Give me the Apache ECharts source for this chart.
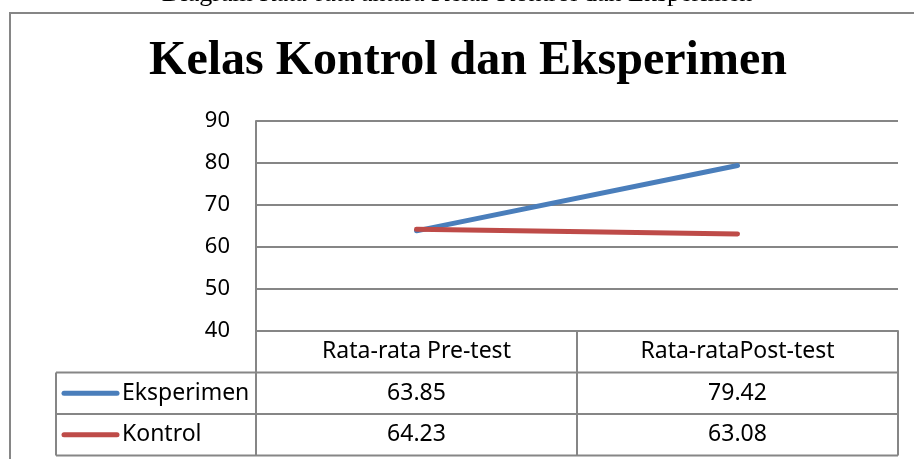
<!DOCTYPE html>
<html><head><meta charset="utf-8">
<script src="https://cdn.jsdelivr.net/npm/echarts@6/dist/echarts.min.js"></script>
<style>html,body{margin:0;padding:0;background:#fff}#c{width:914px;height:459px}</style>
</head><body><div id="c"></div>
<script>
const categories = ['Rata-rata Pre-test', 'Rata-rataPost-test'];
const eksperimen = [63.85, 79.42];
const kontrol = [64.23, 63.08];
const seriesNames = ['Eksperimen', 'Kontrol'];
const yTicks = [40, 50, 60, 70, 80, 90];
const titleText = 'Kelas Kontrol dan Eksperimen';
const captionText = 'Diagram Rata-rata antara Kelas Kontrol dan Eksperimen';

const BLUE = '#4A7EBB', RED = '#BE4B48', GRID = '#868686';
const SANS = '"Noto Sans",sans-serif';
const chart = echarts.init(document.getElementById('c'), null, {renderer: 'canvas'});
const option = {
  animation: false,
  grid: {left: 256, right: 16, top: 121, bottom: 128},
  xAxis: {type: 'category', data: categories, boundaryGap: true,
    axisLine: {show: true, lineStyle: {color: GRID, width: 2}},
    axisTick: {show: false}, axisLabel: {show: false}, splitLine: {show: false}},
  yAxis: {type: 'value', min: yTicks[0], max: yTicks[yTicks.length-1], interval: 10,
    axisLine: {show: true, lineStyle: {color: GRID, width: 2}},
    axisTick: {show: false},
    axisLabel: {color: '#000', fontSize: 22, fontFamily: SANS, margin: 26},
    splitLine: {show: true, lineStyle: {color: GRID, width: 2}}},
  series: [
    {name: seriesNames[0], type: 'line', data: eksperimen, symbol: 'none',
      lineStyle: {color: BLUE, width: 5, cap: 'round'}},
    {name: seriesNames[1], type: 'line', data: kontrol, symbol: 'none',
      lineStyle: {color: RED, width: 5, cap: 'round'}}
  ]
};
chart.setOption(option);

function build() {
  const c0 = chart.convertToPixel({xAxisIndex: 0}, categories[0]);
  const c1 = chart.convertToPixel({xAxisIndex: 0}, categories[1]);
  const band = c1 - c0;
  const xb = [c0 - band/2, c0 + band/2, c1 + band/2];
  const yTop = chart.convertToPixel({yAxisIndex: 0}, yTicks[0]);
  const rowH = 41.5;
  const tableLeft = 56;
  const rows = [yTop, yTop + rowH, yTop + 2*rowH, yTop + 3*rowH];
  const g = [];
  const ls = {stroke: GRID, lineWidth: 2};
  const F = '23px ' + SANS;
  g.push({type: 'rect', shape: {x: 10, y: 13, width: 960, height: 500}, style: {fill: 'none', stroke: GRID, lineWidth: 2}, silent: true});
  g.push({type: 'text', x: 457, y: 7, style: {text: captionText, font: '26px "Liberation Serif",serif', fill: '#000', textAlign: 'center', textVerticalAlign: 'bottom'}});
  g.push({type: 'text', x: 468, y: 62, style: {text: titleText, font: 'bold 48px "Liberation Serif",serif', fill: '#000', textAlign: 'center', textVerticalAlign: 'middle'}});
  g.push({type: 'line', shape: {x1: xb[0], y1: rows[0], x2: xb[0], y2: rows[3]}, style: ls});
  g.push({type: 'line', shape: {x1: xb[1], y1: rows[0], x2: xb[1], y2: rows[3]}, style: ls});
  g.push({type: 'line', shape: {x1: xb[2], y1: rows[0], x2: xb[2], y2: rows[3]}, style: ls});
  g.push({type: 'line', shape: {x1: tableLeft, y1: rows[1], x2: tableLeft, y2: rows[3]}, style: ls});
  for (let r = 1; r <= 3; r++) {
    g.push({type: 'line', shape: {x1: tableLeft, y1: rows[r], x2: xb[2], y2: rows[r]}, style: ls});
  }
  categories.forEach((cat) => {
    const cx = chart.convertToPixel({xAxisIndex: 0}, cat);
    g.push({type: 'text', x: cx, y: (rows[0]+rows[1])/2, style: {text: cat, font: F, fill: '#000', textAlign: 'center', textVerticalAlign: 'middle'}});
  });
  const data = [eksperimen, kontrol];
  const cols = [BLUE, RED];
  seriesNames.forEach((nm, r) => {
    const cy = (rows[r+1] + rows[r+2]) / 2;
    g.push({type: 'line', shape: {x1: 64, y1: cy, x2: 117, y2: cy}, style: {stroke: cols[r], lineWidth: 5, lineCap: 'round'}});
    g.push({type: 'text', x: 122, y: cy, style: {text: nm, font: F, fill: '#000', textAlign: 'left', textVerticalAlign: 'middle'}});
    categories.forEach((cat, i) => {
      const cx = chart.convertToPixel({xAxisIndex: 0}, cat);
      g.push({type: 'text', x: cx, y: cy, style: {text: data[r][i].toFixed(2), font: F, fill: '#000', textAlign: 'center', textVerticalAlign: 'middle'}});
    });
  });
  chart.setOption({graphic: g});
}
build();
</script></body></html>
